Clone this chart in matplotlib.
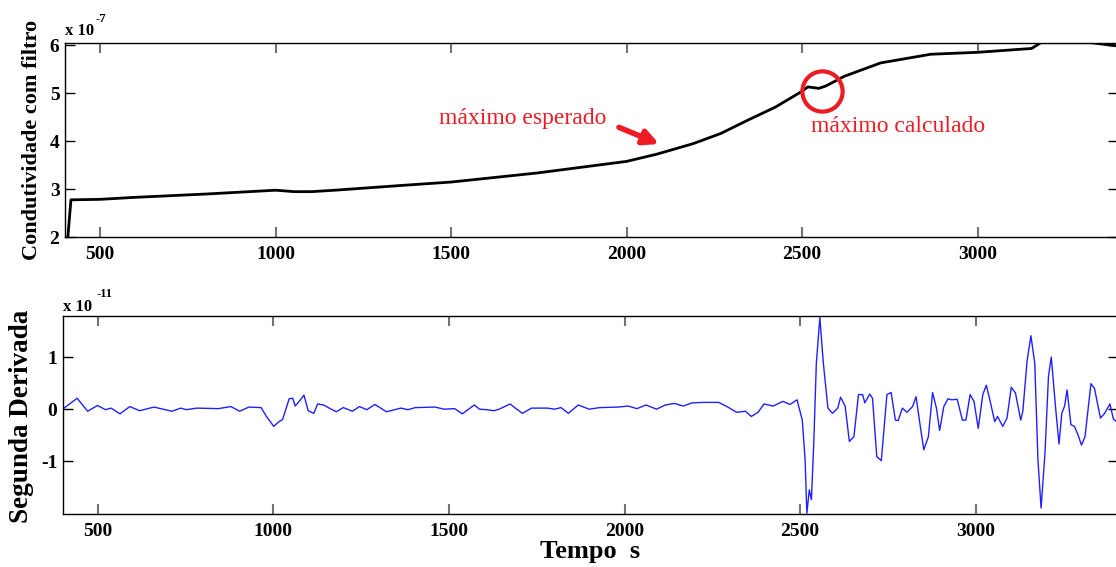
import matplotlib
matplotlib.use("Agg")
import matplotlib.pyplot as plt

plt.rcParams["font.family"] = ["Liberation Serif", "DejaVu Serif"]
plt.rcParams["font.weight"] = "bold"
plt.rcParams["axes.unicode_minus"] = False

# filtered conductivity (units of 1e-7)
cond_t = [408, 417, 500, 595, 800, 1000, 1054, 1102, 1169, 1360, 1500, 1747,
          2000, 2086, 2190, 2268, 2346, 2424, 2500, 2516, 2548, 2568, 2620,
          2724, 2867, 3000, 3154, 3180, 3323, 3400]
cond_v = [2.0, 2.78, 2.79, 2.83, 2.90, 2.98, 2.95, 2.95, 2.98, 3.08, 3.15, 3.34,
          3.58, 3.73, 3.95, 4.16, 4.44, 4.71, 5.04, 5.13, 5.10, 5.15, 5.35,
          5.63, 5.81, 5.85, 5.93, 6.05, 6.05, 5.98]

# second derivative (units of 1e-11)
d2_t = [400, 441, 471, 499, 522, 538, 563, 591, 619, 660, 711, 736, 752, 782,
        843, 879, 904, 930, 965, 980, 1001, 1016, 1026, 1045, 1055, 1062, 1077,
        1087, 1099, 1115, 1126, 1143, 1159, 1179, 1199, 1225, 1245, 1266, 1289,
        1301, 1322, 1363, 1383, 1404, 1460, 1486, 1516, 1538, 1572, 1587, 1607,
        1628, 1643, 1674, 1689, 1709, 1735, 1780, 1801, 1819, 1840, 1868, 1899,
        1929, 1980, 2010, 2035, 2061, 2091, 2116, 2142, 2167, 2192, 2223, 2268,
        2294, 2319, 2344, 2361, 2380, 2397, 2423, 2451, 2471, 2491, 2506, 2514,
        2519, 2526, 2532, 2539, 2546, 2556, 2566, 2579, 2592, 2607, 2615, 2628,
        2640, 2653, 2666, 2678, 2684, 2698, 2706, 2718, 2731, 2747, 2759, 2771,
        2779, 2791, 2804, 2820, 2830, 2842, 2852, 2865, 2877, 2888, 2897, 2909,
        2921, 2931, 2947, 2962, 2972, 2984, 2995, 3007, 3020, 3030, 3040, 3054,
        3062, 3077, 3089, 3101, 3113, 3128, 3134, 3146, 3157, 3168, 3177, 3186,
        3197, 3207, 3215, 3227, 3237, 3245, 3253, 3260, 3271, 3281, 3291, 3301,
        3311, 3328, 3338, 3355, 3367, 3382, 3392, 3405]
d2_v = [0.0, 0.21, -0.04, 0.07, -0.01, 0.02, -0.09, 0.05, -0.03, 0.04, -0.04,
        0.02, -0.01, 0.02, 0.01, 0.05, -0.04, 0.04, 0.03, -0.14, -0.33, -0.24,
        -0.20, 0.20, 0.21, 0.06, 0.18, 0.27, -0.03, -0.08, 0.10, 0.08, 0.02,
        -0.05, 0.03, -0.04, 0.05, -0.01, 0.09, 0.04, -0.05, 0.02, -0.01, 0.03,
        0.04, 0.0, 0.01, -0.09, 0.08, 0.0, -0.01, -0.03, 0.0, 0.10, 0.02, -0.08,
        0.02, 0.02, 0.0, 0.03, -0.08, 0.08, 0.0, 0.03, 0.04, 0.06, 0.01, 0.08,
        0.0, 0.08, 0.11, 0.06, 0.12, 0.13, 0.13, 0.04, -0.06, -0.04, -0.14,
        -0.06, 0.10, 0.06, 0.15, 0.09, 0.18, -0.21, -0.97, -2.0, -1.55, -1.74,
        -0.59, 0.88, 1.76, 0.88, 0.02, -0.08, 0.02, 0.23, 0.06, -0.62, -0.53,
        0.28, 0.28, 0.12, 0.29, 0.21, -0.91, -0.99, 0.28, 0.32, -0.21, -0.22,
        0.02, -0.06, 0.05, 0.24, -0.33, -0.78, -0.53, 0.32, 0.02, -0.41, 0.05,
        0.20, 0.18, 0.19, -0.21, -0.21, 0.28, 0.15, -0.37, 0.28, 0.46, 0.18,
        -0.24, -0.14, -0.33, -0.17, 0.42, 0.31, -0.21, -0.04, 0.92, 1.41, 0.88,
        -0.97, -1.9, -0.85, 0.63, 1.0, 0.05, -0.67, -0.08, 0.06, 0.37, -0.30,
        -0.33, -0.49, -0.69, -0.53, 0.49, 0.40, -0.17, -0.08, 0.10, -0.19, -0.26]

x_ticks = [500, 1000, 1500, 2000, 2500, 3000]
top_yticks = [2, 3, 4, 5, 6]
bot_yticks = [-1, 0, 1]

RED = "#ED1C24"
W, H = 1116, 567

fig = plt.figure(figsize=(W / 100, H / 100), dpi=100)
ax1 = fig.add_axes([65 / W, (H - 237.3) / H, (1118 - 65) / W, (237.3 - 42.7) / H])
ax2 = fig.add_axes([62.7 / W, (H - 514.3) / H, (1118 - 62.7) / W, (514.3 - 316) / H])


def style(ax):
    ax.tick_params(direction="in", top=True, right=True, length=7, width=1,
                   labelsize=14, pad=4)
    ax.tick_params(axis="x", colors="0.45", labelcolor="black", width=1.5, pad=6)
    for lab in ax.get_xticklabels() + ax.get_yticklabels():
        lab.set_fontweight("bold")
    for sp in ax.spines.values():
        sp.set_linewidth(1.0)


ax1.plot(cond_t, cond_v, color="black", linewidth=2)
ax1.set_xlim(400, 3400)
ax1.set_ylim(2, 6.05)
ax1.set_xticks(x_ticks)
ax1.set_yticks(top_yticks)
style(ax1)
ax1.set_ylabel("Condutividade com filtro", fontsize=16, fontweight="bold")
ax1.yaxis.label.set_va("center")
ax1.yaxis.set_label_coords(-0.0313, 0.5)
ax1.text(0.0, 1.04, "x 10", transform=ax1.transAxes, fontsize=12, fontweight="bold",
         va="baseline", ha="left")
ax1.text(0.029, 1.09, "-7", transform=ax1.transAxes, fontsize=9, fontweight="bold",
         va="bottom", ha="left")

ax1.text(1703, 4.48, "máximo esperado", color=RED, fontsize=17, fontweight="normal",
         ha="center", va="center")
ax1.annotate("", xy=(2100, 3.92), xytext=(1971, 4.31),
             arrowprops=dict(arrowstyle="-|>", color=RED, lw=4, mutation_scale=22))
ax1.plot([2557], [5.05], marker="o", markersize=29, markerfacecolor="none",
         markeredgecolor=RED, markeredgewidth=3)
ax1.text(2774, 4.31, "máximo calculado", color=RED, fontsize=17, fontweight="normal",
         ha="center", va="center")

ax2.plot(d2_t, d2_v, color="#2020FF", linewidth=1.0)
ax2.set_xlim(400, 3405)
ax2.set_ylim(-2.02, 1.79)
ax2.set_xticks(x_ticks)
ax2.set_yticks(bot_yticks)
style(ax2)
ax2.set_ylabel("Segunda Derivada", fontsize=19.5, fontweight="bold")
ax2.yaxis.label.set_va("center")
ax2.yaxis.set_label_coords(-0.0386, 0.496)
ax2.set_xlabel("Tempo  s", fontsize=19, fontweight="bold")
ax2.xaxis.label.set_va("center")
ax2.xaxis.set_label_coords(0.4997, -0.19)
ax2.text(0.0, 1.027, "x 10", transform=ax2.transAxes, fontsize=12, fontweight="bold",
         va="baseline", ha="left")
ax2.text(0.0325, 1.081, "-11", transform=ax2.transAxes, fontsize=9, fontweight="bold",
         va="bottom", ha="left")

fig.savefig("out.png", dpi=100)
